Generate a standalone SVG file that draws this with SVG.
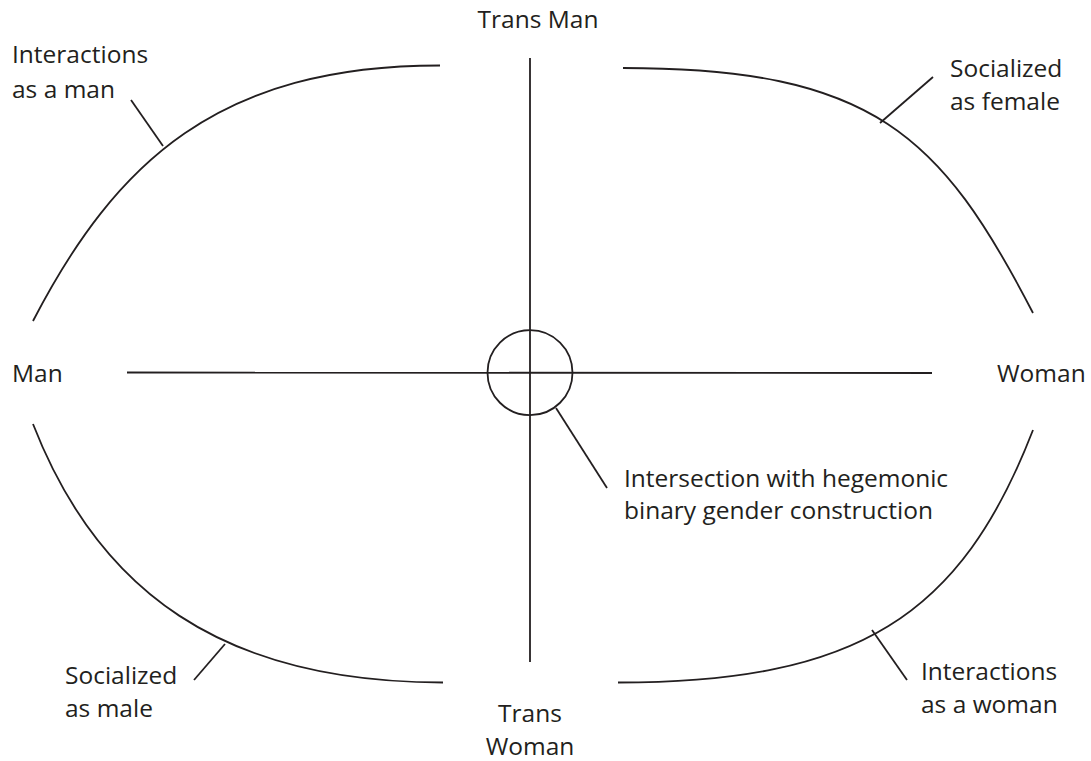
<svg xmlns="http://www.w3.org/2000/svg" width="1091" height="761" viewBox="0 0 1091 761">
<style>
.ln{fill:none;stroke:#231f20;stroke-width:1.8;stroke-linecap:butt}
.t{font-family:"Open Sans","Noto Sans","Liberation Sans",sans-serif;font-size:24.5px;fill:#231f20}
.m{text-anchor:middle}
</style>
<rect width="1091" height="761" fill="#ffffff"/>
<g id="connectors">
<path class="ln" d="M440,65.5 C219,65.5 116,161 33,321"/>
<path class="ln" d="M623,68 C873,68 941,135 1033,313"/>
<path class="ln" d="M33,424 C98,591 222,682.5 443,682.5"/>
<path class="ln" d="M1033,430 C961,616 858,682.5 618,682.5"/>
<line class="ln" x1="127" y1="372.5" x2="932" y2="373"/>
<line class="ln" x1="530" y1="58" x2="530" y2="662"/>
<line class="ln" x1="131" y1="100" x2="163" y2="146"/>
<line class="ln" x1="933" y1="77" x2="880" y2="123"/>
<line class="ln" x1="194" y1="680" x2="225" y2="644"/>
<line class="ln" x1="872" y1="630" x2="907" y2="680"/>
<line class="ln" x1="556" y1="408" x2="607" y2="488"/>
</g>
<g id="center">
<circle class="ln" cx="530" cy="372.7" r="42.5"/>
</g>
<g id="trans-man"><text class="t m" x="538" y="28">Trans Man</text></g>
<g id="trans-woman"><text class="t m" x="530" y="722">Trans</text><text class="t m" x="530" y="755">Woman</text></g>
<g id="man"><text class="t" x="12" y="382">Man</text></g>
<g id="woman"><text class="t" x="997" y="382">Woman</text></g>
<g id="interactions-man"><text class="t" x="12" y="63">Interactions</text><text class="t" x="12" y="98">as a man</text></g>
<g id="socialized-female"><text class="t" x="950" y="77">Socialized</text><text class="t" x="950" y="110">as female</text></g>
<g id="socialized-male"><text class="t" x="65" y="684">Socialized</text><text class="t" x="65" y="717">as male</text></g>
<g id="interactions-woman"><text class="t" x="921" y="680">Interactions</text><text class="t" x="921" y="713">as a woman</text></g>
<g id="intersection"><text class="t" x="624" y="487">Intersection with hegemonic</text><text class="t" x="624" y="519">binary gender construction</text></g>
</svg>
